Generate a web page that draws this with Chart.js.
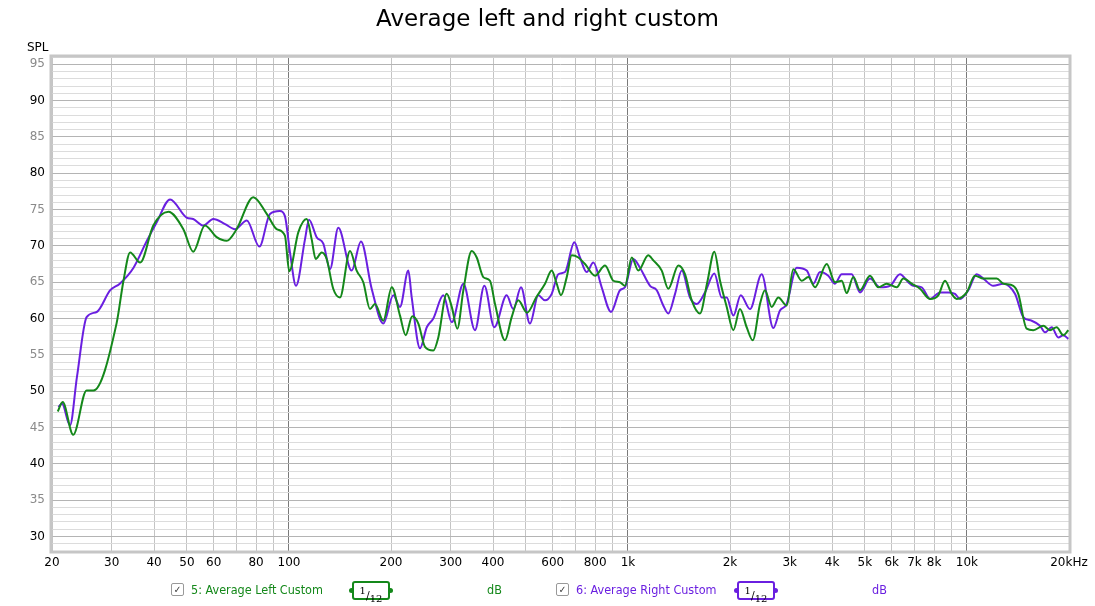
<!DOCTYPE html>
<html>
<head>
<meta charset="utf-8">
<script src="https://cdn.jsdelivr.net/npm/chart.js@4.4.1/dist/chart.umd.min.js"></script>
<style>
    body { margin: 0; background: #fff; font-family: "DejaVu Sans", sans-serif; }
    #wrap { position: relative; width: 1095px; height: 606px; }
    #chart { position: absolute; left: 0; top: 0; }
    .title { position: absolute; left: 0; width: 1095px; top: 5px; text-align: center; font-size: 23px; color: #000; }
    .spl { position: absolute; left: 27px; top: 40px; font-size: 12px; color: #000; }
    .legend { position: absolute; top: 582px; font-size: 12.5px; font-family: "DejaVu Sans Condensed", "DejaVu Sans", sans-serif; white-space: nowrap; }
    .check { display: inline-block; width: 11px; height: 11px; border: 1px solid #999; border-radius: 2px; font-size: 10px; line-height: 11px; text-align: center; color: #333; position: absolute; top: 1px; }
    .smooth { position: absolute; top: -1px; width: 34px; height: 15px; border: 2px solid; border-radius: 3px; font-family: "DejaVu Serif", serif; font-size: 11px; line-height: 15px; text-align: center; color: #000; }
    .smooth .dot { position: absolute; top: 5px; width: 5px; height: 5px; border-radius: 3px; }
</style>
</head>
<body>
<div id="wrap">
    <canvas id="chart" width="1095" height="606"></canvas>
    <div class="title">Average left and right custom</div>
    <div class="spl">SPL</div>
    <div id="legend"></div>
</div>
<script>
// frequency response
const leftFreq = [20.8, 21.5, 23.1, 25.3, 26.5, 31.0, 32.5, 34.0, 36.4, 39.8, 44.1, 48.8, 52.2, 56.5, 61.2, 65.5, 70.1, 78.5, 86.0, 92.0, 97.3, 100.2,
    106.6, 112.8, 116.7, 119.9, 124.9, 129.2, 135.1, 141.4, 151.4, 158.4, 165.7, 173.4, 179.4, 189.8, 201, 212.6, 221, 231, 240.8, 252, 266.6, 275.8,
    292, 302.2, 313.8, 327, 346, 358, 374.4, 391.8, 405.4, 433.8, 454, 474.8, 504, 536, 569.4, 595.8, 616.4, 634.6, 659.8, 682.4, 713.8, 747, 799.6,
    855.8, 905.4, 947, 980, 1026, 1073, 1148, 1188, 1258, 1315, 1408, 1473, 1542, 1631, 1714, 1798, 1869, 1956, 2046, 2140, 2240, 2334, 2452, 2536,
    2655, 2777, 2939, 3074, 3254, 3404, 3563, 3858, 4080, 4271, 4418, 4621, 4836, 5176, 5476, 5798, 6206, 6490, 6871, 7270, 7780, 8232, 8616, 9016,
    9328, 9984, 10562, 11174, 12238, 12800, 13696, 14172, 15006, 15694, 16796, 17580, 18392, 19240, 19908];
const leftSpl = [47.2, 48.5, 44.0, 50.1, 50.1, 59.3, 65.2, 69.1, 67.7, 72.8, 74.7, 72.3, 69.2, 72.8, 71.2, 70.7, 72.3, 76.7, 74.4, 72.3, 71.4, 66.5,
    71.9, 73.7, 70.9, 68.2, 69.1, 68.2, 64.1, 62.9, 69.3, 66.6, 65.0, 61.3, 62.0, 59.7, 64.3, 60.4, 57.7, 60.3, 59.3, 56.1, 55.6, 57.4,
    63.4, 61.6, 58.6, 63.9, 69.3, 68.4, 65.7, 65.2, 62.0, 57.0, 60.2, 62.5, 60.8, 62.9, 64.8, 66.6, 64.8, 63.2, 65.7, 68.7, 68.4, 67.5, 65.9,
    67.3, 65.2, 65.0, 64.5, 68.4, 66.6, 68.7, 68.0, 66.6, 64.1, 67.3, 66.1, 62.5, 60.7, 65.0, 69.2, 65.2, 61.6, 58.4, 61.3, 58.8, 57.0, 62.0, 63.9,
    61.6, 62.9, 61.8, 66.8, 65.2, 65.7, 64.3, 67.5, 65.0, 65.2, 63.5, 65.7, 63.9, 65.9, 64.3, 64.8, 64.3, 65.5, 64.8, 64.1, 62.7, 63.2, 65.2, 63.4,
    62.7, 63.6, 65.9, 65.5, 65.5, 64.8, 64.5, 63.4, 58.6, 58.4, 59.0, 58.4, 58.8, 57.7, 58.4];

const rightFreq = [20.9, 21.4, 22.6, 23.7, 25.3, 27.1, 29.7, 31.7, 34.8, 38.1, 40.7, 44.6, 49.9, 52.2, 55.9, 59.8, 64.8, 69.3, 75.1, 81.8, 87.9, 94.1,
    97.3, 100.7, 104.9, 111.5, 114.6, 120.7, 126.3, 132.2, 139.8, 153.1, 163.1, 175.4, 189.8, 203.2, 212.6, 225, 230.2, 243.6, 255, 266.6, 285.4,
    302.2, 327, 353.8, 377, 403.4, 438.8, 459, 483.6, 514, 543.8, 569.4, 595.8, 623.2, 652.2, 694.6, 722, 755.6, 790.6, 836.6, 891.4, 947.4, 980,
    1037, 1085, 1162, 1216, 1271, 1315, 1377, 1441, 1524, 1595, 1688, 1798, 1890, 1956, 2046, 2151, 2291, 2480, 2684, 2808, 2939, 3146, 3368, 3522,
    3686, 3899, 4080, 4271, 4571, 4836, 5176, 5540, 5929, 6346, 6714, 6946, 7354, 7780, 8328, 8812, 9220, 9540, 10094, 10684, 11174, 11960, 12800,
    13856, 14664, 15524, 16426, 16990, 17784, 18592, 19240, 19908];
const rightSpl = [47.8, 48.3, 45.3, 52.0, 60.2, 60.9, 63.9, 64.8, 67.0, 70.7, 73.2, 76.4, 73.9, 73.7, 72.8, 73.7, 73.0, 72.3, 73.5, 69.9, 74.4, 74.8,
    74.1, 69.1, 64.5, 70.9, 73.6, 71.2, 70.3, 66.8, 72.5, 66.6, 70.6, 64.1, 59.3, 63.2, 61.6, 66.6, 62.9, 55.9, 58.8, 60.0, 63.2,
    59.5, 64.8, 58.4, 64.5, 58.8, 63.2, 61.3, 64.3, 59.3, 63.2, 62.5, 63.4, 66.1, 66.4, 70.5, 68.4, 66.4, 67.7, 64.3, 60.9, 63.9, 64.3,
    68.2, 67.0, 64.5, 63.9, 61.8, 60.7, 63.4, 66.6, 62.9, 62.0, 63.6, 66.2, 62.9, 62.9, 60.4, 63.2, 61.3, 66.1, 58.7, 61.1, 62.0, 67.0, 66.6, 64.8,
    66.4, 65.9, 64.8, 66.1, 66.1, 63.6, 65.5, 64.3, 64.5, 66.1, 65.0, 64.5, 64.3, 62.7, 63.6, 63.6, 63.4, 62.7, 63.9, 66.1, 65.5, 64.5, 64.8,
    63.4, 60.2, 59.7, 59.0, 58.1, 58.8, 57.4, 57.7, 57.2];

const xTickLabels = {20: '20', 30: '30', 40: '40', 50: '50', 60: '60', 80: '80', 100: '100', 200: '200', 300: '300', 400: '400', 600: '600', 800: '800',
    1000: '1k', 2000: '2k', 3000: '3k', 4000: '4k', 5000: '5k', 6000: '6k', 7000: '7k', 8000: '8k', 10000: '10k', 20000: '20kHz'};
const yTickLabels = [30, 35, 40, 45, 50, 55, 60, 65, 70, 75, 80, 85, 90, 95];

const leftColor = '#14881a';
const rightColor = '#6a1fe0';

// grid positions: every 1..9 step per decade, every dB
const xGrid = [];
for (let dec = 10; dec <= 10000; dec *= 10) {
    for (let m = 1; m <= 9; m++) {
        const v = m * dec;
        if (v >= 20 && v <= 20000) xGrid.push(v);
    }
}
const yGrid = [];
for (let v = 28; v <= 96; v++) yGrid.push(v);

const frame = {
    id: 'frame',
    beforeDatasetsDraw(chart) {
        const a = chart.chartArea;
        const ctx = chart.ctx;
        ctx.save();
        ctx.strokeStyle = '#c6c6c6';
        ctx.lineWidth = 3;
        ctx.strokeRect(a.left - 1, a.top - 1, a.right - a.left + 2, a.bottom - a.top + 2);
        ctx.restore();
    }
};

new Chart(document.getElementById('chart'), {
    type: 'line',
    data: {
        datasets: [{
            label: '5: Average Left Custom',
            data: leftFreq.map((f, i) => ({x: f, y: leftSpl[i]})),
            borderColor: leftColor,
            borderWidth: 2,
            pointRadius: 0,
            cubicInterpolationMode: 'monotone'
        }, {
            label: '6: Average Right Custom',
            data: rightFreq.map((f, i) => ({x: f, y: rightSpl[i]})),
            borderColor: rightColor,
            borderWidth: 2,
            pointRadius: 0,
            cubicInterpolationMode: 'monotone'
        }]
    },
    options: {
        responsive: false,
        animation: false,
        layout: { padding: { top: 57, right: 26, left: 0, bottom: 0 } },
        plugins: { legend: { display: false }, tooltip: { enabled: false } },
        scales: {
            x: {
                type: 'logarithmic',
                min: 20,
                max: 20000,
                afterBuildTicks: scale => { scale.ticks = xGrid.map(v => ({value: v})); },
                afterFit: scale => { scale.height = 55; },
                border: { display: false },
                grid: {
                    color: ctx => [100, 1000, 10000].includes(ctx.tick && ctx.tick.value) ? '#7a7a7a' : '#c4c4c4',
                    drawTicks: false
                },
                ticks: {
                    autoSkip: false,
                    maxRotation: 0,
                    padding: 5,
                    color: '#000',
                    font: { family: 'DejaVu Sans', size: 12 },
                    callback: value => xTickLabels[value] || ''
                }
            },
            y: {
                type: 'linear',
                min: 28,
                max: 96,
                afterBuildTicks: scale => { scale.ticks = yGrid.map(v => ({value: v})); },
                afterFit: scale => { scale.width = 52; },
                border: { display: false },
                grid: {
                    color: ctx => (ctx.tick && ctx.tick.value % 5 === 0) ? '#b4b4b4' : '#dcdcdc',
                    drawTicks: false
                },
                ticks: {
                    autoSkip: false,
                    padding: 7,
                    color: ctx => (ctx.tick && ctx.tick.value % 10 === 0) ? '#000' : '#8a8a8a',
                    font: { family: 'DejaVu Sans', size: 12 },
                    callback: value => yTickLabels.includes(value) ? String(value) : ''
                }
            }
        }
    },
    plugins: [frame]
});

// legend row under the axis
const legendItems = [
    {x: 171, text: '5: Average Left Custom', color: leftColor, box: 352, unit: 487},
    {x: 556, text: '6: Average Right Custom', color: rightColor, box: 737, unit: 872}
];
const legend = document.getElementById('legend');
legendItems.forEach(item => {
    legend.innerHTML += `
        <div class="legend" style="left:${item.x}px"><span class="check">✓</span></div>
        <div class="legend" style="left:${item.x + 20}px; color:${item.color}">${item.text}</div>
        <div class="legend" style="left:${item.box}px">
            <span class="smooth" style="border-color:${item.color}">
                <sup style="font-size:10px">1</sup>/<sub style="font-size:10px">12</sub>
                <span class="dot" style="left:-5px; background:${item.color}"></span>
                <span class="dot" style="right:-5px; background:${item.color}"></span>
            </span>
        </div>
        <div class="legend" style="left:${item.unit}px; color:${item.color}">dB</div>
    `;
});
</script>
</body>
</html>
